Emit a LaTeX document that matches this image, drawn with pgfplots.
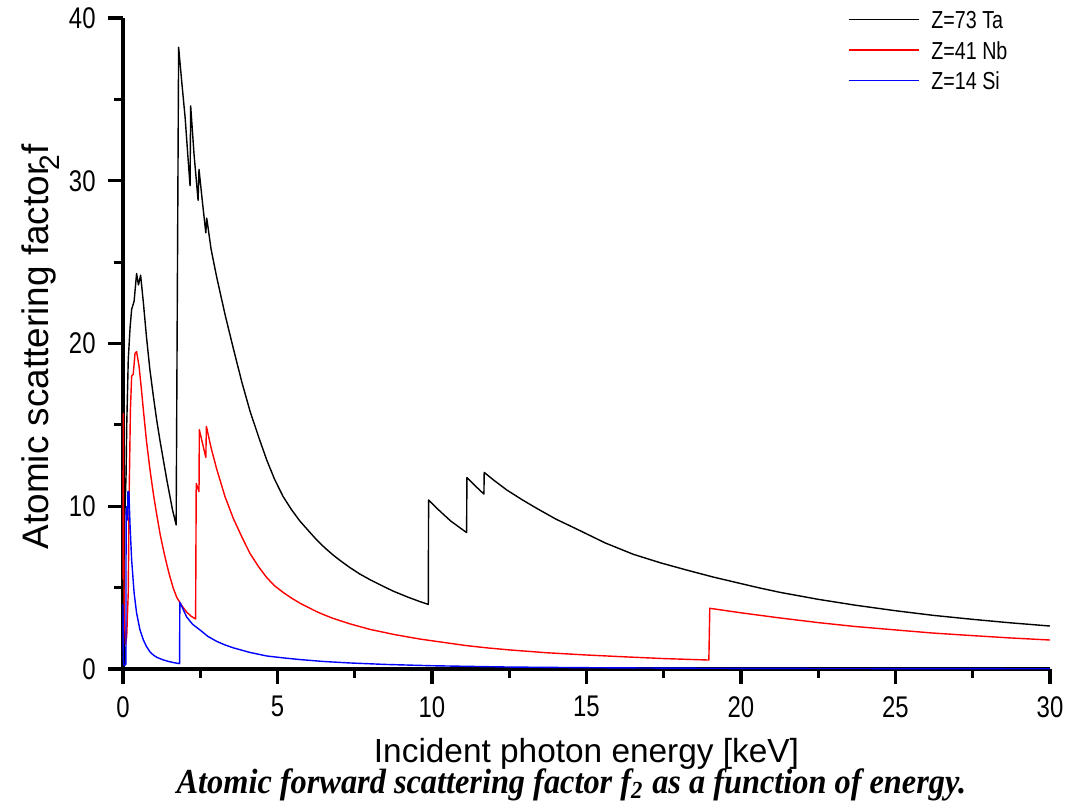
\documentclass[border=0pt]{standalone}
\usepackage{fontspec}
\setmainfont{Liberation Sans}
\newfontfamily\narrow{Liberation Sans}[FakeStretch=0.8]
\newfontfamily\capfont{Liberation Serif}[FakeStretch=0.92]
\usepackage{pgfplots}
\pgfplotsset{compat=1.18}

\begin{document}
\begin{tikzpicture}
% page frame: 1px = 0.1mm, axis origin at px (123,669)
\path[use as bounding box] (-12.3mm,-13.7mm) rectangle (94.5mm,66.9mm);
\begin{axis}[
  scale only axis, width=92.7mm, height=65.1mm,
  at={(0,0)}, anchor=south west,
  xmin=0, xmax=30, ymin=0, ymax=40,
  xtick={0,5,...,30}, ytick={0,10,...,40},
  minor x tick num=1, minor y tick num=1,
  axis x line=bottom, axis y line=left,
  axis line style={-, line width=0.9pt},
  tick style={line width=0.9pt, black},
  tick align=outside,
  major tick length=1.5mm, minor tick length=0.9mm,
  clip=false,
  /pgf/number format/assume math mode=true,
  ticklabel style={font=\narrow\fontsize{8.5}{10}\selectfont},
  xlabel={Incident photon energy [keV]},
  xlabel style={at={(axis description cs:0.5,-0.1429)}, anchor=base,
    font=\fontsize{9.5}{11}\selectfont},
  ylabel={Atomic scattering factor\kern-0.18em\raisebox{-0.6ex}{\fontsize{8}{9}\selectfont 2}f},
  ylabel style={at={(axis description cs:-0.0809,0.495)}, anchor=base,
    font=\fontsize{10.5}{12}\selectfont},
  legend style={draw=none, fill=none, at={(rel axis cs:0.782,1.012)},
    anchor=north west, inner sep=0pt, outer sep=0pt, row sep=3.4pt,
    nodes={inner sep=0pt, text height=5.3pt, text depth=0pt, anchor=west},
    font=\narrow\fontsize{7}{8}\selectfont},
  legend image code/.code={\draw[#1, line width=0.45pt] (0mm,0mm) -- (7mm,0mm); \path (8.2mm,0mm);},
  legend cell align=left,
  every axis plot/.append style={line width=0.4pt, line join=round},
]
% Z=73 Ta
\addplot[black] coordinates {
(0.005,3.0) (0.02,18.1) (0.035,12.0) (0.06,9.5) (0.1,12.0) (0.12,14.9) (0.17,19.0)
(0.23,21.0) (0.28,22.1) (0.36,22.6) (0.44,24.3) (0.5,23.6) (0.57,24.2) (0.66,22.5)
(0.76,20.4) (0.87,18.4) (0.98,16.8) (1.09,15.3) (1.2,14.0) (1.31,12.8) (1.42,11.6)
(1.5,10.8) (1.6,9.8) (1.72,8.85) (1.80,38.2) (1.9,36.1) (2.01,33.9) (2.1,31.5)
(2.17,29.7) (2.19,34.6) (2.3,31.6) (2.43,28.8) (2.46,30.7) (2.57,28.7) (2.68,26.8)
(2.71,27.7) (2.85,25.8) (3.03,24.1) (3.3,21.8) (3.57,19.7) (3.85,17.6) (4.11,15.85)
(4.4,14.2) (4.65,12.85) (4.9,11.68) (5.18,10.6) (5.45,9.8) (5.72,9.1) (6.0,8.5)
(6.26,7.95) (6.53,7.45) (6.8,7.0) (7.06,6.62) (7.33,6.25) (7.65,5.85) (8.0,5.48)
(8.4,5.1) (8.75,4.78) (9.2,4.43) (9.61,4.14) (9.88,3.97) (9.89,10.38) (10.2,9.8)
(10.6,9.1) (11.12,8.38) (11.13,11.76) (11.4,11.25) (11.68,10.75) (11.69,12.08)
(12.0,11.6) (12.42,11.0) (12.9,10.42) (13.39,9.87) (14.0,9.22) (14.79,8.5)
(15.6,7.75) (16.51,7.05) (17.4,6.52) (18.24,6.08) (19.1,5.65) (19.97,5.26)
(20.6,4.98) (21.26,4.71) (22.5,4.28) (23.7,3.92) (25.0,3.58) (26.2,3.3) (27.5,3.05)
(28.7,2.84) (30.0,2.64)};
\addlegendentry{Z=73 Ta}
% Z=41 Nb
\addplot[red] coordinates {
(0.0,5.5) (0.01,15.7) (0.02,8.0) (0.04,3.5) (0.08,1.5) (0.12,2.0) (0.17,4.7)
(0.2,10.8) (0.24,15.9) (0.28,18.0) (0.33,18.1) (0.39,19.4) (0.44,19.5) (0.52,18.6)
(0.59,17.3) (0.66,15.9) (0.76,14.0) (0.87,12.3) (0.98,10.8) (1.09,9.5) (1.2,8.3)
(1.31,7.3) (1.42,6.4) (1.5,5.8) (1.62,5.0) (1.74,4.4) (1.9,3.9) (2.06,3.5)
(2.2,3.25) (2.35,3.07) (2.37,11.4) (2.46,10.9) (2.47,14.7) (2.68,13.0) (2.70,14.9)
(2.85,13.6) (3.03,12.3) (3.3,10.6) (3.57,9.25) (3.85,8.1) (4.11,7.1) (4.4,6.25)
(4.65,5.62) (4.9,5.12) (5.18,4.71) (5.45,4.36) (5.72,4.05) (6.0,3.78) (6.26,3.53)
(6.53,3.31) (6.8,3.11) (7.35,2.77) (8.0,2.43) (8.8,2.11) (9.61,1.84) (10.5,1.6)
(11.1,1.44) (11.77,1.3) (12.52,1.17) (13.7,1.0) (15.0,0.86) (16.2,0.75) (17.5,0.64)
(18.96,0.55) (18.99,3.73) (19.97,3.46) (21.2,3.15) (22.5,2.85) (23.7,2.61)
(25.0,2.40) (26.2,2.21) (27.5,2.05) (28.7,1.91) (30.0,1.78)};
\addlegendentry{Z=41 Nb}
% Z=14 Si
\addplot[blue] coordinates {
(0.0,4.0) (0.008,0.5) (0.04,0.2) (0.095,0.3) (0.1,9.6) (0.12,9.97) (0.15,9.15)
(0.16,10.9) (0.19,10.9) (0.23,8.74) (0.28,6.7) (0.36,4.67) (0.44,3.44) (0.55,2.4)
(0.66,1.78) (0.76,1.38) (0.87,1.06) (0.98,0.86) (1.09,0.72) (1.3,0.56) (1.5,0.45)
(1.7,0.37) (1.83,0.33) (1.84,4.1) (2.06,3.2) (2.25,2.75) (2.49,2.4) (2.75,2.0)
(3.03,1.7) (3.3,1.48) (3.57,1.3) (4.1,1.02) (4.65,0.8) (5.2,0.68) (5.72,0.58)
(6.5,0.46) (7.35,0.37) (8.5,0.28) (10.0,0.2) (12.5,0.12) (15.0,0.08) (17.5,0.055)
(20.0,0.04) (25.0,0.025) (30.0,0.015)};
\addlegendentry{Z=14 Si}
\node[anchor=base, font=\capfont\bfseries\itshape\fontsize{10}{12}\selectfont]
  at (axis description cs:0.4838,-0.1905)
  {Atomic forward scattering factor f\textsubscript{2} as a function of energy.};
\end{axis}
\end{tikzpicture}
\end{document}
